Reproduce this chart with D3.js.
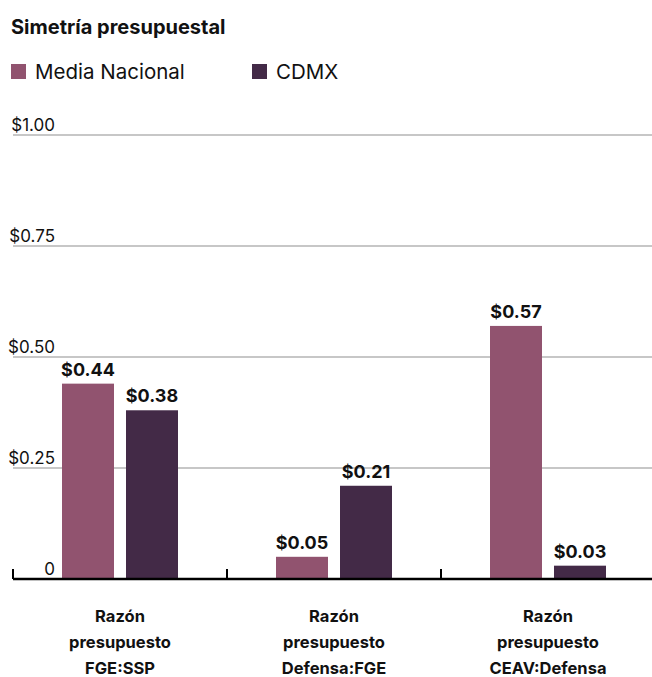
<!DOCTYPE html>
<html>
<head>
<meta charset="utf-8">
<script src="https://cdn.jsdelivr.net/npm/d3@7"></script>
<style>
  html, body { margin: 0; padding: 0; background: #fff; overflow: hidden; }
  svg { display: block; font-family: Inter, "Noto Sans", sans-serif; }
</style>
</head>
<body>
<svg id="chart" width="652" height="677"></svg>
<script>
// Budget ratios: national average vs. Mexico City
const categories = [
  ["Razón", "presupuesto", "FGE:SSP"],
  ["Razón", "presupuesto", "Defensa:FGE"],
  ["Razón", "presupuesto", "CEAV:Defensa"]
];
const seriesNames = ["Media Nacional", "CDMX"];
const mediaNacional = [0.44, 0.05, 0.57];
const cdmx = [0.38, 0.21, 0.03];
const yTicks = [0, 0.25, 0.5, 0.75, 1.0];
const yTickLabels = ["0", "$0.25", "$0.50", "$0.75", "$1.00"];
const colors = ["#91536f", "#432a47"];

const svg = d3.select("#chart");

const x0 = d3.scaleBand().domain(d3.range(categories.length)).range([13, 655]).padding(0);
const x1 = d3.scaleBand().domain(seriesNames).range([49, 165]).paddingInner(0.1875).paddingOuter(0);
const y = d3.scaleLinear().domain([0, 1]).range([579, 135]);

// Title
svg.append("text")
  .attr("x", 11).attr("y", 34)
  .attr("font-size", 20).attr("font-weight", 700).attr("fill", "#111")
  .text("Simetría presupuestal");

// Legend
const legendX = [11, 252];
seriesNames.forEach((name, i) => {
  const g = svg.append("g").attr("transform", `translate(${legendX[i]},64)`);
  g.append("rect").attr("width", 15).attr("height", 15).attr("fill", colors[i]);
  g.append("text").attr("x", 24).attr("y", 14.5)
    .attr("font-size", 20.5).attr("fill", "#111").text(name);
});

// Gridlines
const grid = svg.append("g");
grid.selectAll("line").data(yTicks.filter(d => d > 0)).join("line")
  .attr("x1", 13).attr("x2", 652)
  .attr("y1", d => y(d)).attr("y2", d => y(d))
  .attr("stroke", "#b5b5b5").attr("stroke-width", 1.5);

// Y-axis labels, right-aligned above each gridline
svg.append("g").selectAll("text").data(yTicks).join("text")
  .attr("x", 55).attr("y", d => y(d) - 4)
  .attr("text-anchor", "end")
  .attr("font-size", 17).attr("fill", "#111")
  .text((d, i) => yTickLabels[i]);

// Bars
const groups = svg.append("g").selectAll("g").data(categories).join("g")
  .attr("transform", (d, i) => `translate(${x0(i)},0)`);

const values = [mediaNacional, cdmx];
groups.each(function (d, ci) {
  const g = d3.select(this);
  seriesNames.forEach((s, si) => {
    const v = values[si][ci];
    g.append("rect")
      .attr("x", x1(s)).attr("width", x1.bandwidth())
      .attr("y", y(v)).attr("height", y(0) - y(v))
      .attr("fill", colors[si]);
    g.append("text")
      .attr("x", x1(s) + x1.bandwidth() / 2).attr("y", y(v) - 8)
      .attr("text-anchor", "middle")
      .attr("font-size", 18).attr("font-weight", 700).attr("fill", "#111")
      .text("$" + v.toFixed(2));
  });
});

// Baseline and category ticks
svg.append("line")
  .attr("x1", 13).attr("x2", 652).attr("y1", y(0)).attr("y2", y(0))
  .attr("stroke", "#000").attr("stroke-width", 2.5);
svg.append("g").selectAll("line").data(d3.range(categories.length)).join("line")
  .attr("x1", d => x0(d)).attr("x2", d => x0(d))
  .attr("y1", y(0) - 10).attr("y2", y(0))
  .attr("stroke", "#000").attr("stroke-width", 2);

// Category labels
const catLabels = svg.append("g").selectAll("text").data(categories).join("text")
  .attr("text-anchor", "middle")
  .attr("font-size", 16.5).attr("font-weight", 700).attr("fill", "#111")
  .attr("transform", (d, i) => `translate(${x0(i) + x0.bandwidth() / 2},622)`);
catLabels.selectAll("tspan").data(d => d).join("tspan")
  .attr("x", 0).attr("dy", (d, i) => i === 0 ? 0 : 26)
  .text(d => d);
</script>
</body>
</html>
